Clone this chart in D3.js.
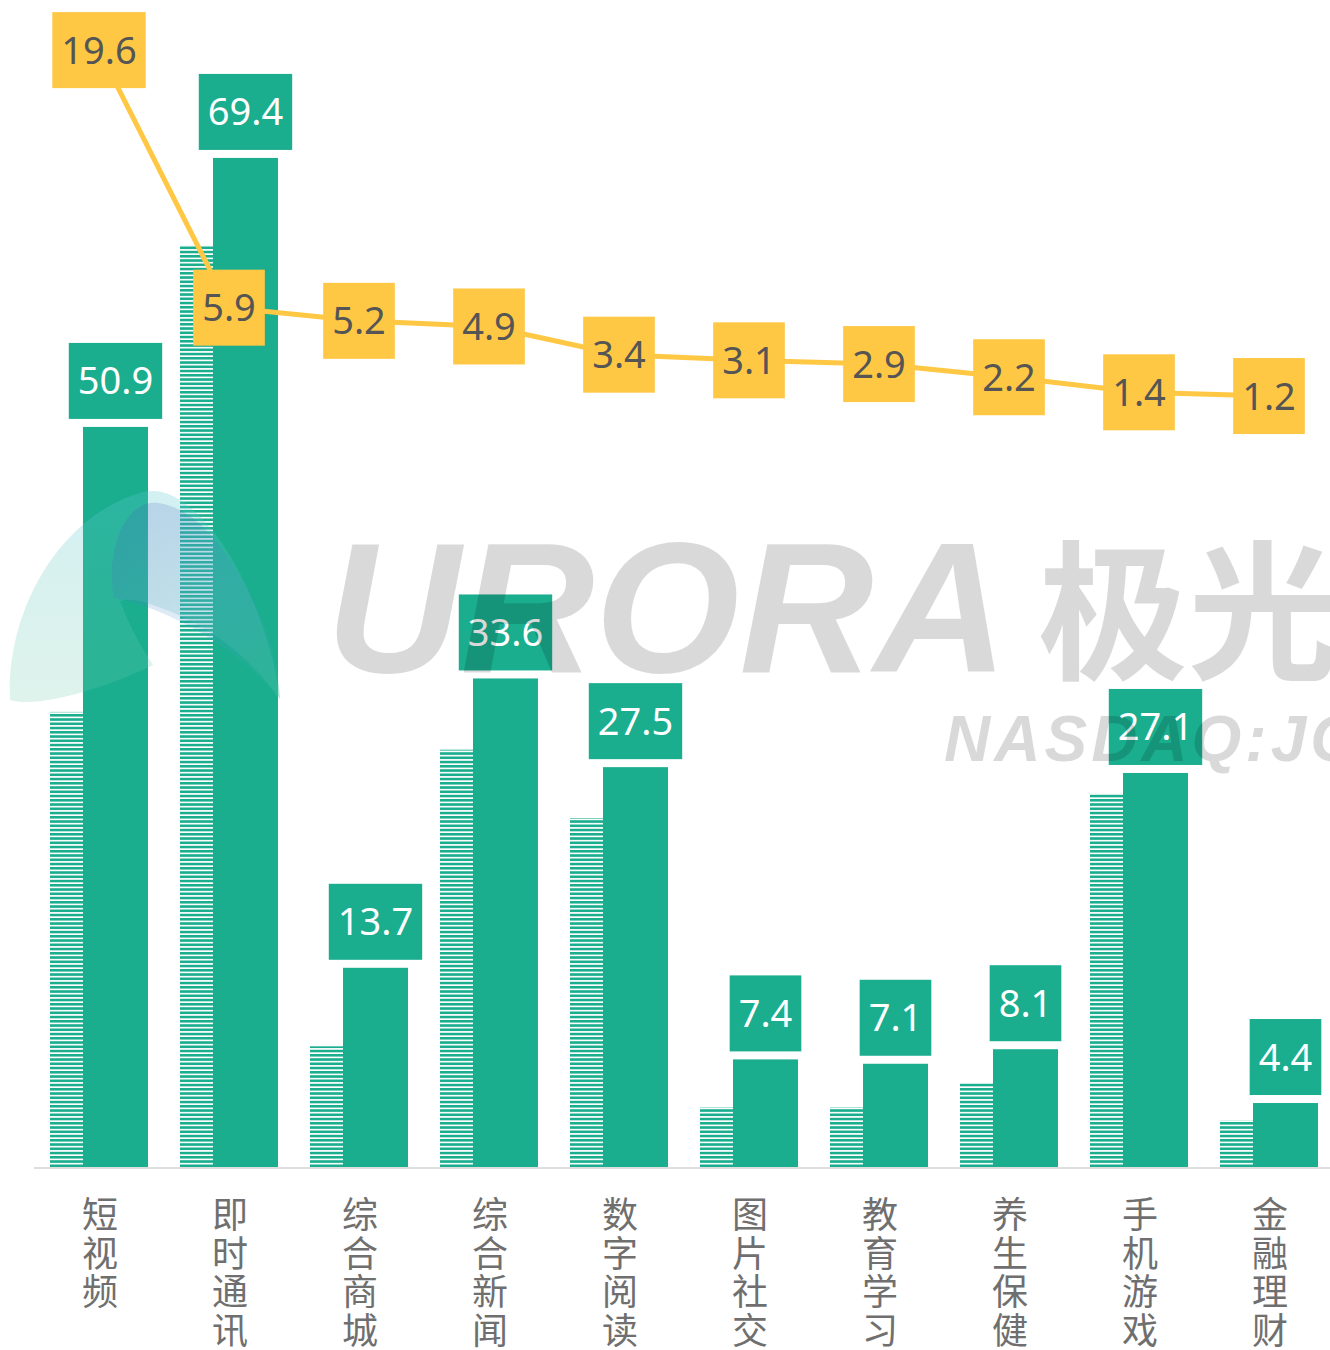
<!DOCTYPE html>
<html>
<head>
<meta charset="utf-8">
<script src="https://d3js.org/d3.v7.min.js"></script>
<style>
  body { margin: 0; background: #fff; }
  svg { display: block; }
</style>
</head>
<body>
<div id="chart"></div>
<script>
// Data
var categories = ["短视频", "即时通讯", "综合商城", "综合新闻", "数字阅读", "图片社交", "教育学习", "养生保健", "手机游戏", "金融理财"];
var currentValues = [50.9, 69.4, 13.7, 33.6, 27.5, 7.4, 7.1, 8.1, 27.1, 4.4];
var previousValues = [31.3, 63.4, 8.3, 28.7, 24.0, 4.1, 4.1, 5.8, 25.7, 3.2];
var lineValues = [19.6, 5.9, 5.2, 4.9, 3.4, 3.1, 2.9, 2.2, 1.4, 1.2];

var width = 1330, height = 1350;
var teal = "#1aae8f", yellow = "#ffc844";

var svg = d3.select("#chart")
  .append("svg")
    .attr("width", width)
    .attr("height", height);

// scales
var x = d3.scaleBand()
    .domain(categories)
    .range([34, 1334])
    .paddingInner(0.246)
    .paddingOuter(0.123);

var y = d3.scaleLinear().domain([0, 80]).range([1167, 3.8]);
var yLine = d3.scaleLinear().domain([0, 20]).range([418.6, 42.6]);

var prevW = 40, barW = 65, barOff = 33;

// stripe pattern for previous period
var defs = svg.append("defs");
var pat = defs.append("pattern")
    .attr("id", "stripes")
    .attr("patternUnits", "userSpaceOnUse")
    .attr("width", 8)
    .attr("height", 4.25);
pat.append("rect").attr("width", 8).attr("height", 4.25).attr("fill", "#fff");
pat.append("rect").attr("width", 8).attr("height", 2.6).attr("fill", teal);

// logo gradients (translucent)
var gA = defs.append("linearGradient").attr("id", "logoA")
    .attr("x1", 0).attr("y1", 0).attr("x2", 0).attr("y2", 1);
gA.append("stop").attr("offset", "0%").attr("stop-color", "#5cc8d0").attr("stop-opacity", 0.27);
gA.append("stop").attr("offset", "100%").attr("stop-color", "#6cc8a8").attr("stop-opacity", 0.22);

var gB = defs.append("linearGradient").attr("id", "logoB")
    .attr("x1", 0.2).attr("y1", 0).attr("x2", 0.9).attr("y2", 1);
gB.append("stop").attr("offset", "0%").attr("stop-color", "#4557bf").attr("stop-opacity", 0.19);
gB.append("stop").attr("offset", "50%").attr("stop-color", "#4a8fd0").attr("stop-opacity", 0.18);
gB.append("stop").attr("offset", "100%").attr("stop-color", "#2fb79c").attr("stop-opacity", 0.3);

// previous (striped) bars
svg.append("g").selectAll("rect")
  .data(previousValues)
  .enter().append("rect")
    .attr("x", function(d, i) { return x(categories[i]); })
    .attr("y", function(d) { return y(d); })
    .attr("width", prevW)
    .attr("height", function(d) { return y(0) - y(d); })
    .attr("fill", "url(#stripes)");

// current bars
svg.append("g").selectAll("rect")
  .data(currentValues)
  .enter().append("rect")
    .attr("x", function(d, i) { return x(categories[i]) + barOff; })
    .attr("y", function(d) { return y(d); })
    .attr("width", barW)
    .attr("height", function(d) { return y(0) - y(d); })
    .attr("fill", teal);

// baseline
svg.append("line")
    .attr("x1", 34).attr("x2", width)
    .attr("y1", y(0) + 1).attr("y2", y(0) + 1)
    .attr("stroke", "#dedede")
    .attr("stroke-width", 2);

// category labels, one character per line
var catLabels = svg.append("g").selectAll("text")
  .data(categories)
  .enter().append("text")
    .attr("font-family", "Noto Sans CJK SC")
    .attr("font-size", 36)
    .attr("fill", "#6f6f6f")
    .attr("text-anchor", "middle");

catLabels.each(function(d) {
  var t = d3.select(this);
  var cx = x(d) + x.bandwidth() / 2 + 1;
  d.split("").forEach(function(ch, j) {
    t.append("tspan")
      .attr("x", cx)
      .attr("y", 1228 + j * 38.5)
      .text(ch);
  });
});

// boxed label helper
function boxLabel(g, cx, cy, txt, fill, color) {
  var grp = g.append("g");
  var rect = grp.append("rect").attr("fill", fill);
  var t = grp.append("text")
      .attr("x", cx)
      .attr("y", cy + 13.5)
      .attr("text-anchor", "middle")
      .attr("font-family", "Noto Sans")
      .attr("font-size", 38)
      .attr("fill", color)
      .text(txt);
  var w = t.node().getComputedTextLength() + 18;
  rect.attr("x", cx - w / 2).attr("y", cy - 38).attr("width", w).attr("height", 76);
}

// value labels on bars
var barLabels = svg.append("g");
currentValues.forEach(function(d, i) {
  var cx = x(categories[i]) + barOff + barW / 2;
  boxLabel(barLabels, cx, y(d) - 46, d.toFixed(1), teal, "#fff");
});

// yellow line
var line = d3.line()
    .x(function(d, i) { return x(categories[i]) + x.bandwidth() / 2; })
    .y(function(d) { return yLine(d); });

svg.append("path")
    .datum(lineValues)
    .attr("d", line)
    .attr("fill", "none")
    .attr("stroke", yellow)
    .attr("stroke-width", 5);

var lineLabels = svg.append("g");
lineValues.forEach(function(d, i) {
  var cx = x(categories[i]) + x.bandwidth() / 2;
  boxLabel(lineLabels, cx, yLine(d), d.toFixed(1), yellow, "#555555");
});

// watermark
var wm = svg.append("g").attr("pointer-events", "none");

// logo: outer crescent + inner leaf
wm.append("path")
    .attr("d", "M10,700 C6,610 60,515 143,492 C200,478 268,600 280,700 C250,655 205,622 150,604 C136,599 126,599 120,601 C130,628 142,648 153,665 C110,686 40,709 10,700 Z")
    .attr("fill", "url(#logoA)");

wm.append("path")
    .attr("d", "M150,503 C120,508 106,560 114,598 C160,606 232,642 280,698 C276,620 222,532 182,511 C170,505 159,502 150,503 Z")
    .attr("fill", "url(#logoB)");

wm.append("text")
    .attr("x", 326)
    .attr("y", 672)
    .attr("font-family", "Liberation Sans")
    .attr("font-weight", "bold")
    .attr("font-style", "italic")
    .attr("font-size", 186)
    .attr("fill", "#000")
    .attr("fill-opacity", 0.15)
    .text("URORA");

wm.append("text")
    .attr("x", 1038)
    .attr("y", 668)
    .attr("font-family", "Noto Sans CJK SC")
    .attr("font-weight", "bold")
    .attr("font-size", 150)
    .attr("fill", "#000")
    .attr("fill-opacity", 0.15)
    .text("极光");

wm.append("text")
    .attr("x", 944)
    .attr("y", 761)
    .attr("font-family", "Liberation Sans")
    .attr("font-weight", "bold")
    .attr("font-style", "italic")
    .attr("font-size", 64)
    .attr("letter-spacing", 4)
    .attr("fill", "#000")
    .attr("fill-opacity", 0.15)
    .text("NASDAQ:JG");
</script>
</body>
</html>
